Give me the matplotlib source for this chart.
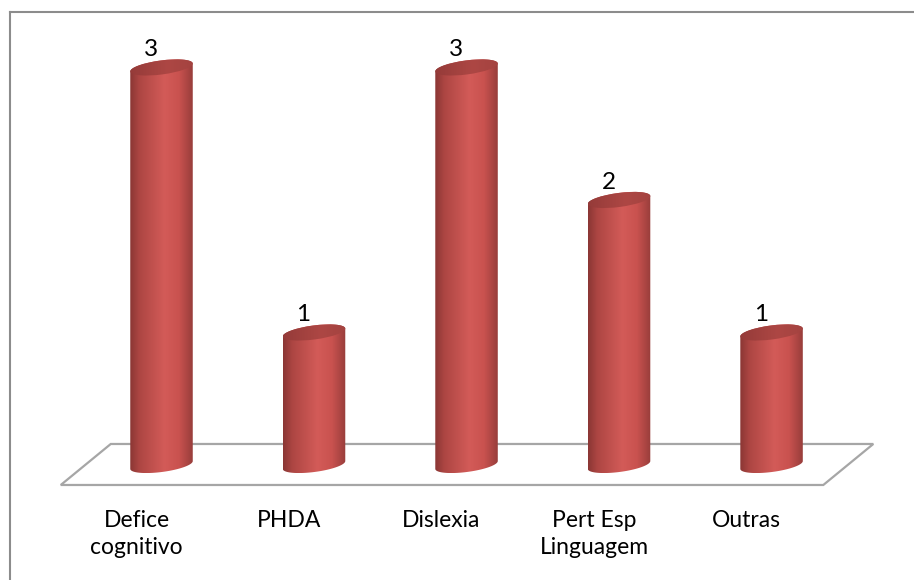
import numpy as np
import matplotlib
matplotlib.use("Agg")
import matplotlib.pyplot as plt
from matplotlib.patches import Ellipse, PathPatch, Polygon
from matplotlib.path import Path
from matplotlib.transforms import IdentityTransform
from matplotlib.colors import LinearSegmentedColormap
from matplotlib.lines import Line2D

categories = ["Defice\ncognitivo", "PHDA", "Dislexia", "Pert Esp\nLinguagem", "Outras"]
values = [3, 1, 3, 2, 1]

W, H, DPI = 914, 580, 100
FONT = "Lato"

fig = plt.figure(figsize=(W / DPI, H / DPI), dpi=DPI)
fig.patch.set_facecolor("white")
ax = fig.add_axes([0, 0, 1, 1])
ax.set_xlim(-1.059, 4.934)
ax.set_ylim(-0.868, 3.509)
ax.set_autoscale_on(False)
ax.axis("off")

ident = IdentityTransform()
to_px = ax.transData.transform
to_data = ax.transData.inverted().transform

# cylinder shading
body_cmap = LinearSegmentedColormap.from_list(
    "body",
    [(0.0, "#8a3634"), (0.15, "#ad4643"), (0.55, "#d35b58"),
     (0.78, "#c9524f"), (1.0, "#983d3b")])
top_cmap = LinearSegmentedColormap.from_list(
    "top", [(0.0, "#953b39"), (0.6, "#ad4744"), (1.0, "#a44340")])

R_MAJ, R_MIN, TILT = 31.5, 7.0, np.deg2rad(7.5)
cos_t, sin_t = np.cos(TILT), np.sin(TILT)


def ell_pts(cx, cy, t):
    x = cx + R_MAJ * np.cos(t) * cos_t - R_MIN * np.sin(t) * sin_t
    y = cy + R_MAJ * np.cos(t) * sin_t + R_MIN * np.sin(t) * cos_t
    return np.column_stack([x, y])


t0 = np.arctan(-(R_MIN / R_MAJ) * np.tan(TILT))  # rightmost point parameter

# floor
FLOOR_BACK, FLOOR_FRONT = 21, -20
SKEW_BACK, SKEW_FRONT = 25.5, -24.5
fl = to_px((-0.5, 0))
fr = to_px((len(categories) - 0.5, 0))
floor = Polygon([(fl[0] + SKEW_BACK, fl[1] + FLOOR_BACK),
                 (fr[0] + SKEW_BACK, fr[1] + FLOOR_BACK),
                 (fr[0] + SKEW_FRONT, fr[1] + FLOOR_FRONT),
                 (fl[0] + SKEW_FRONT, fl[1] + FLOOR_FRONT)],
                closed=True, transform=ident, facecolor="white",
                edgecolor="#a6a6a6", linewidth=1.6, zorder=1)
ax.add_artist(floor)

grad = np.linspace(0, 1, 256)[None, :]

for i, v in enumerate(values):
    bx, by = to_px((i, 0))
    tx, ty = to_px((i, v))
    # body outline: left side down, lower arc of base, right side up, upper arc of top
    lower = ell_pts(bx, by, np.linspace(t0 + np.pi, t0 + 2 * np.pi, 60))
    upper = ell_pts(tx, ty, np.linspace(t0, t0 + np.pi, 60))
    verts = np.vstack([lower, upper, lower[:1]])
    body = PathPatch(Path(verts), transform=ident, facecolor="none",
                     edgecolor="none")
    xmin, xmax = verts[:, 0].min(), verts[:, 0].max()
    ymin, ymax = verts[:, 1].min(), verts[:, 1].max()
    (dx0, dy0), (dx1, dy1) = to_data((xmin, ymin)), to_data((xmax, ymax))
    im = ax.imshow(grad, cmap=body_cmap, extent=(dx0, dx1, dy0, dy1),
                   aspect="auto", interpolation="bicubic", zorder=2)
    im.set_clip_path(body)

    top = Ellipse((tx, ty), 2 * R_MAJ, 2 * R_MIN, angle=np.rad2deg(TILT),
                  transform=ident, facecolor="none", edgecolor="none")
    im2 = ax.imshow(grad, cmap=top_cmap, extent=(dx0, dx1, dy0, dy1),
                    aspect="auto", interpolation="bicubic", zorder=3)
    im2.set_clip_path(top)

    ax.annotate(str(v), xy=(i, v), xytext=(-10.5 * 0.72, 11 * 0.72),
                textcoords="offset points", ha="center", va="baseline",
                fontsize=17.5, family=FONT, color="black", zorder=5)

for i, name in enumerate(categories):
    ax.annotate(name, xy=(i, 0), xytext=(-25 * 0.72, -45 * 0.72),
                textcoords="offset points", ha="center", va="top",
                fontsize=16.5, family=FONT, color="black",
                linespacing=1.38, zorder=5)

# chart frame (top and left edges visible)
fig.add_artist(Line2D([9.5, W], [H - 12.3, H - 12.3], transform=ident,
                      color="#8c8c8c", linewidth=1.5))
fig.add_artist(Line2D([9.5, 9.5], [0, H - 12.3], transform=ident,
                      color="#8c8c8c", linewidth=1.5))

fig.savefig("out.png", dpi=DPI, facecolor="white")
